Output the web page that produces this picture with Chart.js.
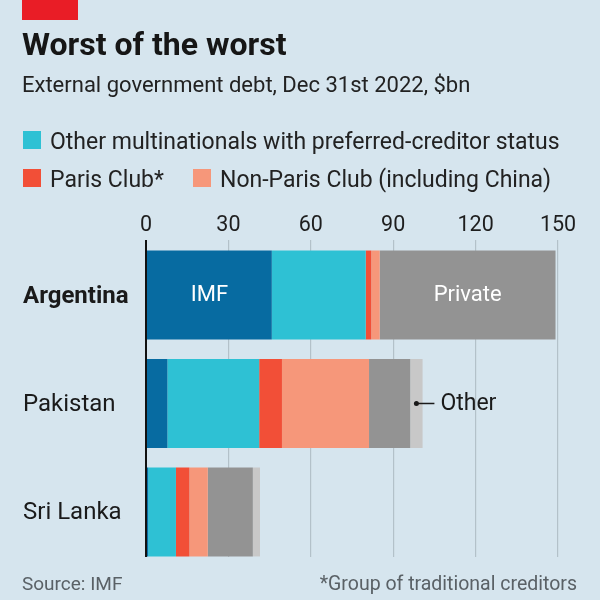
<!DOCTYPE html>
<html lang="en">
<head>
  <meta charset="UTF-8">
  <title>Worst of the worst</title>
  <script src="https://cdn.jsdelivr.net/npm/chart.js"></script>
  <style>
    body {
      margin: 0;
      background: #d6e5ee;
      font-family: Roboto, sans-serif;
      color: #1a1a1a;
    }
    #page {
      position: relative;
      width: 600px;
      height: 600px;
      overflow: hidden;
    }
    #chart {
      position: absolute;
      left: 0;
      top: 0;
    }
    .redbar {
      position: absolute;
      left: 22px;
      top: 0;
      width: 56px;
      height: 20px;
      background: #e91d26;
    }
    h1 {
      position: absolute;
      left: 22px;
      top: 28px;
      margin: 0;
      font-size: 32px;
      line-height: 32px;
      font-weight: 700;
      color: #161616;
      white-space: nowrap;
    }
    .sub {
      position: absolute;
      left: 22px;
      top: 74px;
      font-size: 22px;
      line-height: 22px;
      color: #222;
      white-space: nowrap;
    }
    .item {
      position: absolute;
      font-size: 23px;
      line-height: 23px;
      color: #222;
      white-space: nowrap;
      padding-left: 27px;
    }
    .item i {
      position: absolute;
      left: 0;
      top: 1px;
      width: 18px;
      height: 18px;
    }
    .foot {
      position: absolute;
      top: 574px;
      font-size: 19px;
      line-height: 19px;
      color: #5a6166;
      white-space: nowrap;
    }
  </style>
</head>
<body>
  <div id="page">
    <canvas id="chart" width="600" height="600"></canvas>
    <div class="redbar"></div>
    <h1>Worst of the worst</h1>
    <div class="sub">External government debt, Dec 31st 2022, $bn</div>
    <div id="legend"></div>
    <div class="foot" style="left:22px">Source: IMF</div>
    <div class="foot" style="right:23px; font-size:19.5px">*Group of traditional creditors</div>
  </div>

  <script>
    // data, $bn
    const countries = ['Argentina', 'Pakistan', 'Sri Lanka'];
    const seriesNames = ['IMF', 'Other multinationals with preferred-creditor status', 'Paris Club*',
      'Non-Paris Club (including China)', 'Private', 'Other'];
    const imf = [45.8, 7.8, 0.8];
    const otherMultinationals = [34.2, 33.4, 10.1];
    const parisClub = [2.0, 8.3, 4.9];
    const nonParisClub = [3.1, 31.7, 6.7];
    const privateCreditors = [64.0, 15.0, 16.4];
    const otherCreditors = [0, 4.5, 2.6];
    const xTicks = [0, 30, 60, 90, 120, 150];

    const seriesValues = [imf, otherMultinationals, parisClub, nonParisClub, privateCreditors, otherCreditors];
    const seriesColors = ['#076ba1', '#2ec1d4', '#f24f37', '#f6977a', '#939393', '#c8c8c8'];

    // legend only carries the three series that aren't labelled on the bars
    const legendSlots = [
      { series: 1, left: 23, top: 130 },
      { series: 2, left: 23, top: 167.5 },
      { series: 3, left: 193, top: 167.5 }
    ];
    const legend = document.getElementById('legend');
    legendSlots.forEach(s => {
      const el = document.createElement('div');
      el.className = 'item';
      el.style.left = s.left + 'px';
      el.style.top = s.top + 'px';
      el.innerHTML = `<i style="background:${seriesColors[s.series]}"></i>${seriesNames[s.series]}`;
      legend.appendChild(el);
    });

    // labels drawn straight onto the bars
    const barLabels = {
      id: 'barLabels',
      afterDatasetsDraw(chart) {
        const ctx = chart.ctx;
        ctx.save();
        ctx.font = '22px Roboto';
        ctx.fillStyle = '#fff';
        ctx.textAlign = 'center';
        ctx.textBaseline = 'middle';
        [0, 4].forEach(ds => {
          const bar = chart.getDatasetMeta(ds).data[0];
          ctx.fillText(seriesNames[ds], (bar.x + bar.base) / 2, bar.y);
        });

        const other = chart.getDatasetMeta(5).data[1];
        const ox = (other.x + other.base) / 2;
        ctx.fillStyle = '#1a1a1a';
        ctx.strokeStyle = '#1a1a1a';
        ctx.beginPath();
        ctx.arc(ox, other.y, 2.5, 0, Math.PI * 2);
        ctx.fill();
        ctx.beginPath();
        ctx.moveTo(ox, other.y);
        ctx.lineTo(ox + 18, other.y);
        ctx.lineWidth = 1.5;
        ctx.stroke();
        ctx.textAlign = 'left';
        ctx.font = '23px Roboto';
        ctx.fillText(seriesNames[5], ox + 24, other.y + 1);
        ctx.restore();
      }
    };

    Chart.defaults.font.family = 'Roboto';

    new Chart(document.getElementById('chart'), {
      type: 'bar',
      data: {
        datasets: seriesValues.map((vals, i) => ({
          label: seriesNames[i],
          data: vals.map((v, j) => ({ x: v, y: j })),
          backgroundColor: seriesColors[i],
          borderWidth: 0,
          categoryPercentage: 1,
          barPercentage: 0.82
        }))
      },
      options: {
        indexAxis: 'y',
        responsive: false,
        animation: false,
        layout: { padding: { left: 23, right: 42, top: 200, bottom: 43 } },
        plugins: {
          legend: { display: false },
          tooltip: { enabled: false }
        },
        scales: {
          x: {
            position: 'top',
            stacked: true,
            min: 0,
            max: 150,
            afterBuildTicks: axis => { axis.ticks = xTicks.map(v => ({ value: v })); },
            afterFit: axis => { axis.height = 40; },
            border: { display: false },
            grid: {
              drawTicks: false,
              color: c => c.tick && c.tick.value === 0 ? '#111' : '#b3c1c9',
              lineWidth: c => c.tick && c.tick.value === 0 ? 2 : 1.2
            },
            ticks: { padding: 1, color: '#1e1e1e', font: { size: 21.5 } }
          },
          y: {
            type: 'linear',
            reverse: true,
            stacked: true,
            offset: false,
            min: -0.507,
            max: 2.415,
            afterBuildTicks: axis => { axis.ticks = countries.map((c, i) => ({ value: i })); },
            afterFit: axis => { axis.width = 123; },
            border: { display: false },
            grid: { display: false, offset: false },
            ticks: {
              crossAlign: 'far',
              labelOffset: 1.5,
              color: '#1a1a1a',
              callback: v => countries[v],
              font: c => ({ size: 24, weight: c.index === 0 ? 'bold' : 'normal' })
            }
          }
        }
      },
      plugins: [barLabels]
    });
  </script>
</body>
</html>
